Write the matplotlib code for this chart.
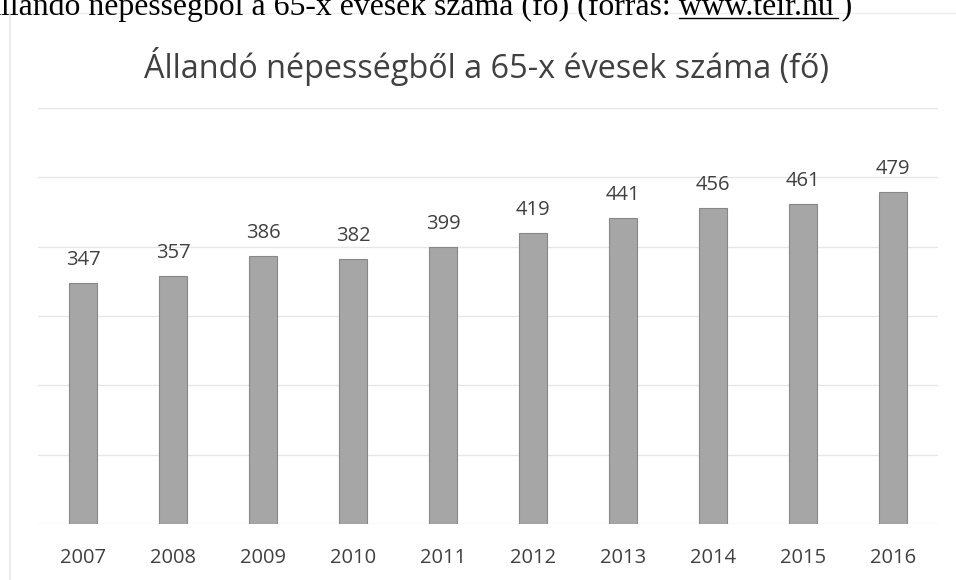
import matplotlib.pyplot as plt
from matplotlib.lines import Line2D

# data
years = ['2007', '2008', '2009', '2010', '2011', '2012', '2013', '2014', '2015', '2016']
values = [347, 357, 386, 382, 399, 419, 441, 456, 461, 479]

title = 'Állandó népességből a 65-x évesek száma (fő)'
caption = 'Állandó népességből a 65-x évesek száma (fő) (forrás: www.teir.hu )'

fig = plt.figure(figsize=(9.56, 5.8), dpi=100)
ax = fig.add_axes([38 / 956, 1 - 524 / 580, 900 / 956, 416 / 580])

x = range(len(years))
bars = ax.bar(x, values, width=0.31, color='#a6a6a6', edgecolor='#878787', linewidth=0.8, zorder=3)

for b, v in zip(bars, values):
    ax.text(b.get_x() + b.get_width() / 2, v + 19, str(v), ha='center', va='bottom',
            fontsize=14.5, color='#404040', family='Open Sans')

ax.set_xlim(-0.5, len(years) - 0.5)
ax.set_ylim(0, 600)
ax.set_yticks(range(0, 601, 100))
ax.yaxis.grid(True, color='#e6e6e6', linewidth=1, zorder=0)
ax.set_yticklabels([])
ax.tick_params(axis='y', length=0)
ax.set_xticks(list(x))
ax.set_xticklabels(years, fontsize=14.5, color='#404040', family='Open Sans')
ax.tick_params(axis='x', length=0, pad=17)
for s in ax.spines.values():
    s.set_visible(False)

# chart title
fig.text(486 / 956, 1 - 67 / 580, title, ha='center', va='center', fontsize=23.3,
         color='#404040', family='Open Sans')

# cut-off caption line from the scanned page
fig.text(852 / 956, 1 - 15 / 580, caption, ha='right', va='baseline', fontsize=22.9,
         color='black', family='Liberation Serif')
fig.add_artist(Line2D([679 / 956, 838 / 956], [1 - 18 / 580, 1 - 18 / 580],
                      transform=fig.transFigure, color='black', linewidth=1))

# faint chart frame
fig.add_artist(Line2D([10 / 956, 10 / 956], [0, 1 - 13 / 580], transform=fig.transFigure,
                      color='#e8e8e8', linewidth=1.2))
fig.add_artist(Line2D([10 / 956, 1], [1 - 13 / 580, 1 - 13 / 580], transform=fig.transFigure,
                      color='#eeeeee', linewidth=1))

fig.savefig('out.png', dpi=100)
